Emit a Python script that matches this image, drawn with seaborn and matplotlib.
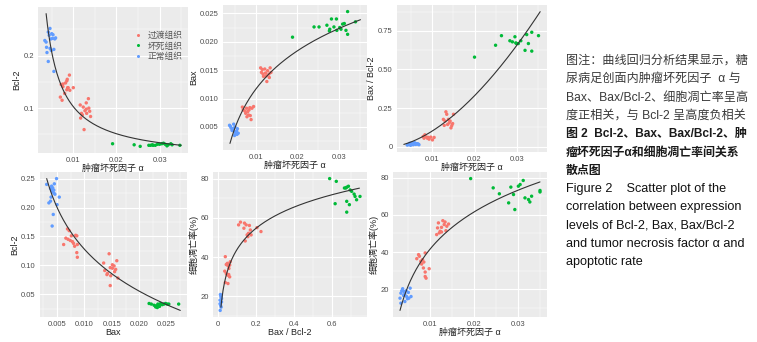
import numpy as np
import pandas as pd
import seaborn as sns
import matplotlib.pyplot as plt
from matplotlib.ticker import AutoMinorLocator, FixedLocator, FixedFormatter

groups = ["过渡组织", "坏死组织", "正常组织"]
palette = ["#F8766D", "#00BA38", "#619CFF"]

# panel 1: TNF-α vs Bcl-2
p1_normal_x = [0.0034, 0.0037, 0.0038, 0.0044, 0.0042, 0.0048, 0.0046, 0.0052, 0.0053, 0.0057, 0.0059, 0.0049, 0.0046, 0.0055, 0.0042, 0.0055, 0.0050, 0.0039]
p1_normal_y = [0.229, 0.226, 0.216, 0.239, 0.245, 0.232, 0.252, 0.233, 0.240, 0.232, 0.234, 0.210, 0.214, 0.212, 0.189, 0.170, 0.242, 0.206]
p1_trans_x = [0.0072, 0.0076, 0.0082, 0.0085, 0.0087, 0.0085, 0.0091, 0.0086, 0.0080, 0.0070, 0.0074, 0.0100, 0.0088, 0.0092, 0.0076,
              0.0116, 0.0117, 0.0121, 0.0127, 0.0130, 0.0131, 0.0135, 0.0136, 0.0138, 0.0140, 0.0125, 0.0130, 0.0123, 0.0119]
p1_trans_y = [0.145, 0.141, 0.148, 0.152, 0.139, 0.135, 0.163, 0.155, 0.128, 0.121, 0.115, 0.139, 0.139, 0.134, 0.146,
              0.106, 0.081, 0.087, 0.095, 0.098, 0.090, 0.118, 0.100, 0.094, 0.084, 0.059, 0.110, 0.102, 0.090]
p1_necro_x = [0.0191, 0.0241, 0.0255, 0.0275, 0.0279, 0.0283, 0.0290, 0.0295, 0.0300, 0.0305, 0.0309, 0.0313, 0.0317, 0.0326, 0.0329, 0.0347, 0.0285, 0.0320]
p1_necro_y = [0.032, 0.030, 0.027, 0.029, 0.029, 0.030, 0.029, 0.031, 0.031, 0.032, 0.033, 0.031, 0.028, 0.032, 0.030, 0.029, 0.029, 0.030]

# panel 2: TNF-α vs Bax
p2_normal_x = [0.0036, 0.0040, 0.0042, 0.0045, 0.0048, 0.0049, 0.0052, 0.0053, 0.0055, 0.0057, 0.0038, 0.0044, 0.0048, 0.0046, 0.0054]
p2_normal_y = [0.0053, 0.0048, 0.0044, 0.0047, 0.0041, 0.0050, 0.0038, 0.0043, 0.0047, 0.0039, 0.0051, 0.0045, 0.0035, 0.0055, 0.0037]
p2_trans_x = [0.0067, 0.0069, 0.0075, 0.0077, 0.0080, 0.0082, 0.0085, 0.0086, 0.0088, 0.0090, 0.0094, 0.0078, 0.0073, 0.0083,
              0.0111, 0.0115, 0.0117, 0.0121, 0.0123, 0.0125, 0.0128, 0.0131, 0.0132, 0.0134, 0.0136, 0.0118, 0.0126, 0.0113]
p2_trans_y = [0.0085, 0.0080, 0.0074, 0.0083, 0.0077, 0.0071, 0.0084, 0.0070, 0.0063, 0.0083, 0.0086, 0.0068, 0.0078, 0.0080,
              0.0154, 0.0151, 0.0143, 0.0152, 0.0145, 0.0140, 0.0149, 0.0143, 0.0137, 0.0154, 0.0146, 0.0139, 0.0130, 0.0146]
p2_necro_x = [0.0188, 0.0240, 0.0252, 0.0271, 0.0278, 0.0282, 0.0288, 0.0294, 0.0295, 0.0302, 0.0305, 0.0309, 0.0313, 0.0317, 0.0321, 0.0321, 0.0340, 0.0277]
p2_necro_y = [0.0208, 0.0226, 0.0226, 0.0229, 0.0222, 0.0240, 0.0226, 0.0240, 0.0220, 0.0225, 0.0222, 0.0231, 0.0232, 0.0220, 0.0253, 0.0213, 0.0235, 0.0219]

# panel 3: TNF-α vs Bax/Bcl-2
p3_normal_x = [0.0040, 0.0044, 0.0046, 0.0050, 0.0052, 0.0056, 0.0058, 0.0060, 0.0064, 0.0068, 0.0048, 0.0054, 0.0062, 0.0042, 0.0057, 0.0050, 0.0066]
p3_normal_y = [0.011, 0.018, 0.022, 0.015, 0.020, 0.018, 0.022, 0.015, 0.018, 0.013, 0.009, 0.013, 0.020, 0.013, 0.027, 0.024, 0.018]
p3_trans_x = [0.0078, 0.0082, 0.0086, 0.0088, 0.0092, 0.0096, 0.0100, 0.0104, 0.0080, 0.0090,
              0.0126, 0.0130, 0.0132, 0.0134, 0.0136, 0.0140, 0.0144, 0.0146, 0.0148, 0.0150, 0.0138, 0.0128, 0.0142]
p3_trans_y = [0.066, 0.077, 0.062, 0.055, 0.049, 0.062, 0.044, 0.060, 0.055, 0.060,
              0.177, 0.166, 0.226, 0.210, 0.144, 0.155, 0.122, 0.137, 0.150, 0.210, 0.177, 0.138, 0.166]
p3_necro_x = [0.0200, 0.0250, 0.0264, 0.0284, 0.0290, 0.0296, 0.0300, 0.0304, 0.0310, 0.0320, 0.0324, 0.0328, 0.0336, 0.0336, 0.0352, 0.0298]
p3_necro_y = [0.580, 0.657, 0.719, 0.686, 0.679, 0.712, 0.668, 0.668, 0.686, 0.624, 0.726, 0.668, 0.741, 0.619, 0.719, 0.672]

# panel 4: Bax vs Bcl-2
p4_normal_x = [0.0031, 0.0038, 0.0040, 0.0042, 0.0042, 0.0044, 0.0044, 0.0046, 0.0049, 0.0039, 0.0038, 0.0035, 0.0050, 0.0054, 0.0043, 0.0041, 0.0045, 0.0041]
p4_normal_y = [0.240, 0.233, 0.237, 0.234, 0.231, 0.230, 0.225, 0.223, 0.250, 0.218, 0.211, 0.208, 0.205, 0.218, 0.188, 0.168, 0.241, 0.228]
p4_trans_x = [0.0069, 0.0072, 0.0066, 0.0070, 0.0074, 0.0076, 0.0080, 0.0084, 0.0086, 0.0082, 0.0087, 0.0086, 0.0087, 0.0062, 0.0078,
              0.0135, 0.0137, 0.0141, 0.0145, 0.0147, 0.0148, 0.0151, 0.0154, 0.0155, 0.0157, 0.0159, 0.0161, 0.0147, 0.0151, 0.0142]
p4_trans_y = [0.163, 0.160, 0.147, 0.145, 0.143, 0.151, 0.138, 0.152, 0.151, 0.133, 0.136, 0.122, 0.114, 0.136, 0.141,
              0.104, 0.091, 0.084, 0.120, 0.096, 0.082, 0.095, 0.099, 0.089, 0.093, 0.108, 0.078, 0.065, 0.101, 0.086]
p4_necro_x = [0.0218, 0.0222, 0.0227, 0.0230, 0.0231, 0.0234, 0.0236, 0.0239, 0.0242, 0.0245, 0.0248, 0.0251, 0.0254, 0.0272, 0.0233, 0.0237]
p4_necro_y = [0.034, 0.033, 0.031, 0.028, 0.030, 0.033, 0.031, 0.034, 0.032, 0.033, 0.034, 0.033, 0.033, 0.033, 0.027, 0.029]

# panel 5: Bax/Bcl-2 vs apoptosis rate
p5_normal_x = [0.012, 0.015, 0.010, 0.018, 0.013, 0.016, 0.011, 0.018, 0.010, 0.015]
p5_normal_y = [20.9, 19.7, 18.0, 17.1, 15.4, 14.5, 12.8, 18.8, 16.2, 20.5]
p5_trans_x = [0.038, 0.043, 0.049, 0.052, 0.057, 0.043, 0.049, 0.056, 0.061, 0.052, 0.038, 0.064, 0.061, 0.035,
              0.108, 0.118, 0.139, 0.136, 0.148, 0.153, 0.160, 0.165, 0.170, 0.143, 0.174, 0.226, 0.205, 0.157]
p5_trans_y = [40.2, 36.2, 36.8, 35.6, 34.2, 31.6, 30.8, 31.1, 29.9, 26.5, 27.0, 37.6, 35.9, 32.8,
              56.4, 57.8, 57.3, 54.7, 56.4, 51.3, 52.1, 56.1, 53.8, 48.2, 51.3, 53.0, 55.0, 50.4]
p5_necro_x = [0.588, 0.623, 0.617, 0.666, 0.673, 0.678, 0.687, 0.678, 0.678, 0.692, 0.704, 0.717, 0.722, 0.730, 0.748, 0.696]
p5_necro_y = [80.0, 78.6, 67.2, 75.2, 75.2, 75.6, 76.1, 68.4, 62.9, 66.7, 73.5, 72.1, 70.9, 69.2, 70.9, 74.2]

# panel 6: TNF-α vs apoptosis rate
p6_normal_x = [0.0032, 0.0034, 0.0038, 0.0041, 0.0043, 0.0046, 0.0047, 0.0049, 0.0051, 0.0052, 0.0055, 0.0057, 0.0040, 0.0036, 0.0043, 0.0034]
p6_normal_y = [15.1, 17.8, 20.2, 18.7, 17.3, 19.1, 16.0, 14.8, 18.2, 15.1, 20.5, 16.0, 16.6, 19.1, 13.3, 12.4]
p6_trans_x = [0.0070, 0.0074, 0.0076, 0.0079, 0.0083, 0.0086, 0.0089, 0.0085, 0.0089, 0.0089, 0.0091, 0.0098, 0.0081,
              0.0115, 0.0117, 0.0119, 0.0123, 0.0126, 0.0129, 0.0132, 0.0134, 0.0138, 0.0142, 0.0126, 0.0121, 0.0136]
p6_trans_y = [36.4, 38.6, 37.7, 35.0, 35.9, 34.6, 39.5, 31.4, 29.2, 26.8, 25.9, 31.0, 33.5,
              49.4, 53.0, 55.7, 51.2, 53.3, 56.9, 54.8, 56.2, 53.9, 55.1, 50.8, 50.3, 51.5]
p6_necro_x = [0.0192, 0.0243, 0.0257, 0.0278, 0.0283, 0.0289, 0.0292, 0.0300, 0.0304, 0.0311, 0.0315, 0.0323, 0.0326, 0.0330, 0.0349, 0.0349]
p6_necro_y = [79.6, 74.6, 71.4, 66.5, 75.0, 71.0, 62.9, 75.5, 76.4, 78.6, 69.2, 68.3, 67.0, 70.1, 73.2, 72.4]

# regression curves: (model, a, b, x from, x to)
p1_fit = ("power", 0.000986, -1.009, 0.0037, 0.0350)
p2_fit = ("log", 0.0562, 0.00966, 0.0037, 0.0352)
p3_fit = ("power", 244.5, 1.689, 0.0032, 0.0356)
p4_fit = ("log", -0.3533, -0.10445, 0.0031, 0.0275)
p5_fit = ("log", 79.7, 15.54, 0.015, 0.745)
p6_fit = ("log", 175.1, 29.0, 0.0032, 0.0349)

tnf_label = "肿瘤坏死因子 α"
apop_label = "细胞凋亡率(%)"

caption_cn = ["图注：曲线回归分析结果显示，糖",
              "尿病足创面内肿瘤坏死因子  α 与",
              "Bax、Bax/Bcl-2、细胞凋亡率呈高",
              "度正相关，与 Bcl-2 呈高度负相关"]
title_cn = ["图 2  Bcl-2、Bax、Bax/Bcl-2、肿",
            "瘤坏死因子α和细胞凋亡率间关系",
            "散点图"]
title_en = ["Figure 2    Scatter plot of the",
            "correlation between expression",
            "levels of Bcl-2, Bax, Bax/Bcl-2",
            "and tumor necrosis factor α and",
            "apoptotic rate"]


def make_df(nx, ny, tx, ty, cx, cy):
    return pd.DataFrame({
        "x": list(tx) + list(cx) + list(nx),
        "y": list(ty) + list(cy) + list(ny),
        "group": [groups[0]] * len(tx) + [groups[1]] * len(cx) + [groups[2]] * len(nx),
    })


def fit_curve(fit):
    kind, a, b, lo, hi = fit
    xs = np.linspace(lo, hi, 200)
    if kind == "power":
        ys = a * xs ** b
    else:
        ys = a + b * np.log(xs)
    return pd.DataFrame({"x": xs, "y": ys})


sns.set_theme(style="darkgrid", rc={
    "axes.facecolor": "#EBEBEB",
    "grid.color": "white",
    "axes.edgecolor": "#EBEBEB",
})
plt.rcParams["font.family"] = ["Liberation Sans", "Noto Sans CJK SC"]

fig = plt.figure(figsize=(7.57, 3.42), dpi=100)
W, H = 757, 342


def add_ax(left, right, top, bottom):
    return fig.add_axes([left / W, 1 - bottom / H, (right - left) / W, (bottom - top) / H])


panels = [
    (make_df(p1_normal_x, p1_normal_y, p1_trans_x, p1_trans_y, p1_necro_x, p1_necro_y), p1_fit,
     (38, 188, 7, 153), tnf_label, "Bcl-2", [0.01, 0.02, 0.03], ["0.01", "0.02", "0.03"], [0.1, 0.2], ["0.1", "0.2"]),
    (make_df(p2_normal_x, p2_normal_y, p2_trans_x, p2_trans_y, p2_necro_x, p2_necro_y), p2_fit,
     (223, 367, 5, 150), tnf_label, "Bax", [0.01, 0.02, 0.03], ["0.01", "0.02", "0.03"],
     [0.005, 0.010, 0.015, 0.020, 0.025], ["0.005", "0.010", "0.015", "0.020", "0.025"]),
    (make_df(p3_normal_x, p3_normal_y, p3_trans_x, p3_trans_y, p3_necro_x, p3_necro_y), p3_fit,
     (397, 547, 5, 152), tnf_label, "Bax / Bcl-2", [0.01, 0.02, 0.03], ["0.01", "0.02", "0.03"],
     [0, 0.25, 0.5, 0.75], ["0", "0.25", "0.50", "0.75"]),
    (make_df(p4_normal_x, p4_normal_y, p4_trans_x, p4_trans_y, p4_necro_x, p4_necro_y), p4_fit,
     (40, 187, 172, 317), "Bax", "Bcl-2", [0.005, 0.010, 0.015, 0.020, 0.025],
     ["0.005", "0.010", "0.015", "0.020", "0.025"], [0.05, 0.10, 0.15, 0.20, 0.25],
     ["0.05", "0.10", "0.15", "0.20", "0.25"]),
    (make_df(p5_normal_x, p5_normal_y, p5_trans_x, p5_trans_y, p5_necro_x, p5_necro_y), p5_fit,
     (213, 367, 172, 317), "Bax / Bcl-2", apop_label, [0, 0.2, 0.4, 0.6], ["0", "0.2", "0.4", "0.6"],
     [20, 40, 60, 80], ["20", "40", "60", "80"]),
    (make_df(p6_normal_x, p6_normal_y, p6_trans_x, p6_trans_y, p6_necro_x, p6_necro_y), p6_fit,
     (393, 547, 172, 317), tnf_label, apop_label, [0.01, 0.02, 0.03], ["0.01", "0.02", "0.03"],
     [20, 40, 60, 80], ["20", "40", "60", "80"]),
]

for i, (df, fit, box, xlab, ylab, xt, xtl, yt, ytl) in enumerate(panels):
    ax = add_ax(*box)
    curve = fit_curve(fit)
    sns.scatterplot(data=df, x="x", y="y", hue="group", hue_order=groups, palette=palette,
                    s=6, linewidth=0, ax=ax, legend=(i == 0), zorder=3)
    sns.lineplot(data=curve, x="x", y="y", color="#333333", linewidth=0.8, ax=ax, zorder=4)
    ax.margins(0.05)
    ax.xaxis.set_major_locator(FixedLocator(xt))
    ax.xaxis.set_major_formatter(FixedFormatter(xtl))
    ax.yaxis.set_major_locator(FixedLocator(yt))
    ax.yaxis.set_major_formatter(FixedFormatter(ytl))
    ax.xaxis.set_minor_locator(AutoMinorLocator(2))
    ax.yaxis.set_minor_locator(AutoMinorLocator(2))
    ax.grid(which="major", color="white", linewidth=0.8)
    ax.grid(which="minor", color="white", linewidth=0.35)
    ax.tick_params(which="major", length=2, width=0.5, color="#333333", labelsize=5.5,
                   labelcolor="#4D4D4D", pad=1)
    ax.tick_params(which="minor", length=0)
    ax.set_xlabel(xlab, fontsize=6.5, labelpad=0, color="#222222")
    ax.set_ylabel(ylab, fontsize=6.5, labelpad=1.5, color="#222222")
    for s in ax.spines.values():
        s.set_visible(False)
    if i == 0:
        ax.legend(loc="upper right", bbox_to_anchor=(1.0, 0.87), frameon=False, fontsize=6.3,
                  handletextpad=0.1, labelspacing=0.15, markerscale=0.9, borderaxespad=0.2,
                  labelcolor="#555555")

x0 = 566 / W
y = 61
for line in caption_cn:
    fig.text(x0, 1 - y / H, line, fontsize=8.7, color="#3a3a3a", va="center", ha="left")
    y += 18.3
for line in title_cn:
    fig.text(x0, 1 - y / H, line, fontsize=8.6, color="#1a1a1a", va="center", ha="left", weight="bold")
    y += 18.3
for line in title_en:
    fig.text(x0, 1 - y / H, line, fontsize=9.1, color="#111111", va="center", ha="left")
    y += 18.3

fig.savefig("out.png", dpi=100)
